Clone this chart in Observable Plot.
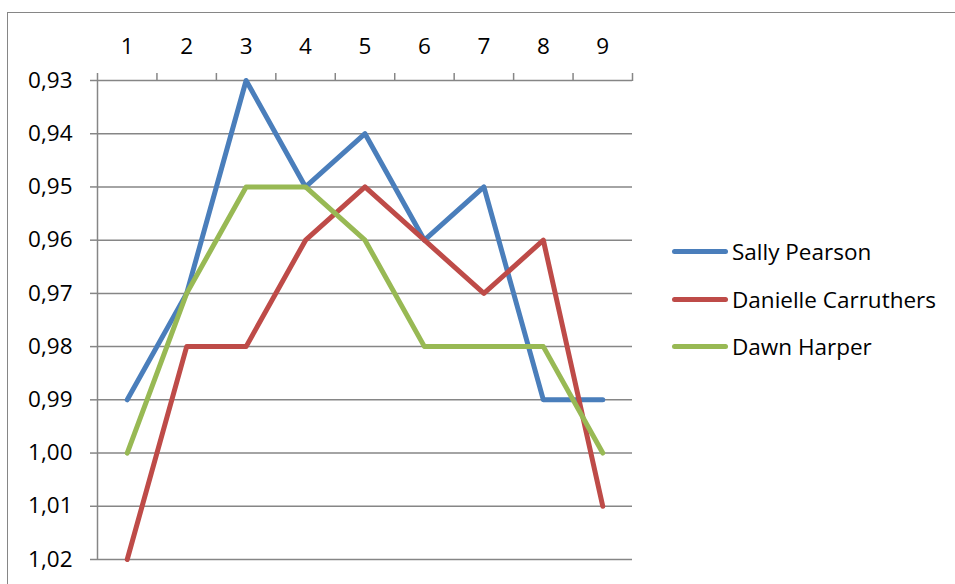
<!DOCTYPE html>
<html>
<head>
<meta charset="utf-8">
<script src="https://cdn.jsdelivr.net/npm/d3@7"></script>
<script src="https://cdn.jsdelivr.net/npm/@observablehq/plot@0.6"></script>
<style>
  html, body { margin: 0; padding: 0; background: #fff; }
  #wrap { position: relative; width: 955px; height: 584px; overflow: hidden; font-family: "Open Sans", Lato, sans-serif; }
  #frame { position: absolute; left: 7px; top: 12px; width: 960px; height: 600px; border-left: 1.5px solid #868686; border-top: 1.5px solid #868686; box-sizing: border-box; }
  #chart { position: absolute; left: 0; top: 0; }
  #legend { position: absolute; left: 672px; top: 228px; }
  .item { display: flex; align-items: center; height: 47.5px; font-size: 22.5px; color: #000; }
  .swatch { width: 56px; height: 5px; border-radius: 3px; margin-right: 4px; }
</style>
</head>
<body>
<div id="wrap">
  <div id="frame"></div>
  <div id="chart"></div>
  <div id="legend"></div>
</div>
<script>
const races = [1, 2, 3, 4, 5, 6, 7, 8, 9];
const seriesNames = ["Sally Pearson", "Danielle Carruthers", "Dawn Harper"];
const sallyPearson = [0.99, 0.97, 0.93, 0.95, 0.94, 0.96, 0.95, 0.99, 0.99];
const danielleCarruthers = [1.02, 0.98, 0.98, 0.96, 0.95, 0.96, 0.97, 0.96, 1.01];
const dawnHarper = [1.00, 0.97, 0.95, 0.95, 0.96, 0.98, 0.98, 0.98, 1.00];
const yTicks = [0.93, 0.94, 0.95, 0.96, 0.97, 0.98, 0.99, 1.00, 1.01, 1.02];
const colors = ["#4A7EBB", "#BE4B48", "#98B954"];

const allSeries = [sallyPearson, danielleCarruthers, dawnHarper];
const data = [];
allSeries.forEach((vals, i) => {
  vals.forEach((v, j) => data.push({series: seriesNames[i], race: races[j], value: v}));
});
const bandEdges = d3.range(races[0] - 0.5, races[races.length - 1] + 1, 1);
const fmt = d => d3.format(".2f")(d).replace(".", ",");

const plot = Plot.plot({
  width: 955,
  height: 584,
  marginLeft: 97,
  marginRight: 323,
  marginTop: 80,
  marginBottom: 25,
  style: {fontFamily: "'Open Sans', Lato, sans-serif", fontSize: "22.5px", color: "#000", background: "transparent"},
  x: {domain: [races[0] - 0.5, races[races.length - 1] + 0.5]},
  y: {domain: [yTicks[0], yTicks[yTicks.length - 1]], reverse: true},
  color: {domain: seriesNames, range: colors},
  marks: [
    Plot.gridY(yTicks, {stroke: "#868686", strokeOpacity: 1, strokeWidth: 1.5}),
    Plot.axisY(yTicks, {anchor: "left", tickSize: 7, tickPadding: 18, tickFormat: fmt, stroke: "#868686", strokeWidth: 1.5, fill: "#000", label: null}),
    Plot.ruleX([bandEdges[0]], {stroke: "#868686", strokeWidth: 1.5}),
    Plot.axisX(bandEdges, {anchor: "top", tickSize: 8, tickFormat: () => "", stroke: "#868686", strokeWidth: 1.5, label: null}),
    Plot.axisX(races, {anchor: "top", tickSize: 0, tickPadding: 27, tickFormat: d => String(d), fill: "#000", label: null}),
    Plot.line(data, {x: "race", y: "value", z: "series", stroke: "series", strokeWidth: 5, strokeLinejoin: "round", strokeLinecap: "round"})
  ]
});
document.getElementById("chart").appendChild(plot);

const legend = document.getElementById("legend");
seriesNames.forEach((name, i) => {
  const item = document.createElement("div");
  item.className = "item";
  const sw = document.createElement("div");
  sw.className = "swatch";
  sw.style.background = colors[i];
  const label = document.createElement("span");
  label.textContent = name;
  item.appendChild(sw);
  item.appendChild(label);
  legend.appendChild(item);
});
</script>
</body>
</html>
